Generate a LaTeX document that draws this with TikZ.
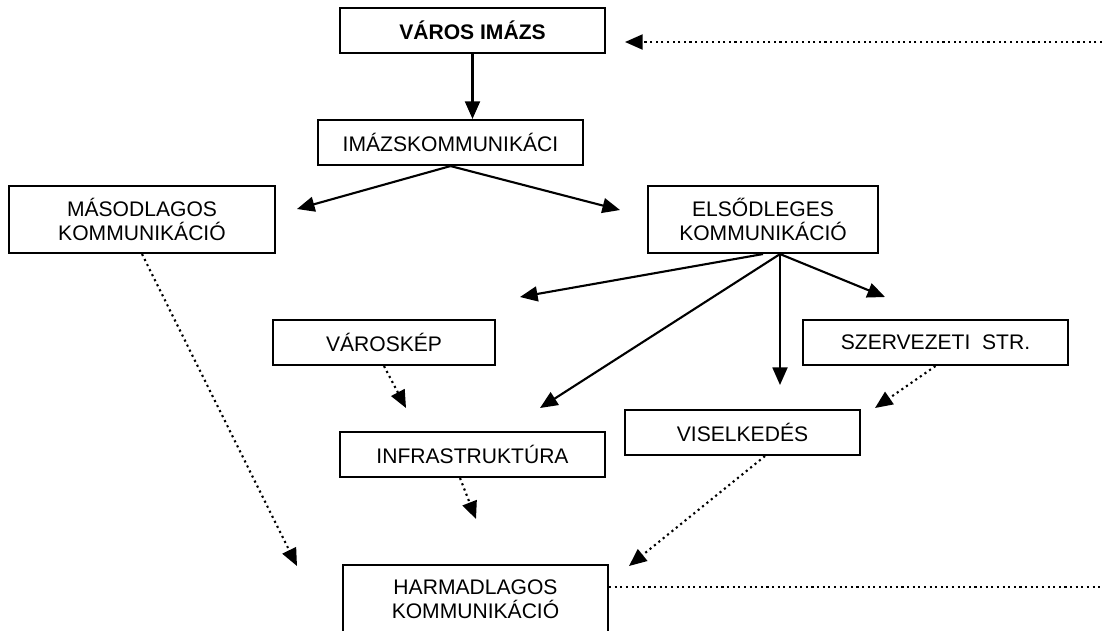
\documentclass[tikz,border=0pt]{standalone}
\usepackage{fontspec}
\setmainfont{Liberation Sans}
\usetikzlibrary{arrows.meta,calc}

\begin{document}
\begin{tikzpicture}[x=0.02cm,y=-0.02cm,
  font=\fontsize{12}{13.6}\selectfont,
  block/.style={rectangle,draw,line width=1.2pt,align=center,inner sep=0pt,minimum width=5.3cm,minimum height=0.9cm},
  arrow/.style={-{Triangle[length=10pt,width=8.5pt]},line width=1.2pt},
  dotarrow/.style={-{Triangle[length=10pt,width=8.5pt]},line width=1.2pt,dash pattern=on 1.2pt off 2pt}]
\clip (0,0) rectangle (1102,630);
\node[block,font=\fontsize{12}{13.6}\selectfont\bfseries] (varos) at (472.5,30.5) {VÁROS IMÁZS};
\node[block] (imazs) at (450.5,142.5) {IMÁZSKOMMUNIKÁCI};
\node[block,minimum width=5.32cm,minimum height=1.34cm] (masod) at (142,219.5) {MÁSODLAGOS\\KOMMUNIKÁCIÓ};
\node[block,minimum width=4.6cm,minimum height=1.34cm] (elso) at (763,219.5) {ELSŐDLEGES\\KOMMUNIKÁCIÓ};
\node[block,minimum width=4.44cm] (varoskep) at (384,342.5) {VÁROSKÉP};
\node[block] (szerv) at (935.5,342.5) {SZERVEZETI\ \ STR.};
\node[block] (infra) at (472.5,454.5) {INFRASTRUKTÚRA};
\node[block,minimum width=4.7cm] (visel) at (742.5,432.5) {VISELKEDÉS};
\node[block,minimum height=1.36cm] (harmad) at (475.5,599) {HARMADLAGOS\\KOMMUNIKÁCIÓ};
\coordinate (feedIn) at (1102,42); \coordinate (feedTip) at (625,42);
\coordinate (feedOut) at (1102,587);
\coordinate (toMasod) at (297,209); \coordinate (toElso) at (620,210);
\coordinate (elsoFoot) at ($(elso.south)+(17,0)$);
\coordinate (toKep) at (520,297); \coordinate (toInfra) at (540,408);
\coordinate (toVisel) at (780,385); \coordinate (toSzerv) at (885,297);
\coordinate (kepTip) at (406,408); \coordinate (szervTip) at (875,408);
\coordinate (infraTip) at (476,519); \coordinate (viselTip) at (629,566);
\coordinate (masodTip) at (297,566);
\draw[arrow] (varos.south)--(varos.south|-imazs.north);
\draw[arrow] (imazs.south)--(toMasod); \draw[arrow] (imazs.south)--(toElso);
\draw[arrow] (elso.south)--(toKep); \draw[arrow] (elsoFoot)--(toInfra);
\draw[arrow] (elsoFoot)--(toVisel); \draw[arrow] (elsoFoot)--(toSzerv);
\draw[dotarrow] (feedIn)--(feedTip);
\draw[dotarrow] (masod.south)--(masodTip);
\draw[dotarrow] (varoskep.south)--(kepTip);
\draw[dotarrow] (infra.south-|460,0)--(infraTip);
\draw[dotarrow] (szerv.south)--(szervTip);
\draw[dotarrow] (visel.south-|765,0)--(viselTip);
\draw[line width=1.2pt,dash pattern=on 1.2pt off 2pt] (harmad.east|-feedOut)--(feedOut);
\end{tikzpicture}
\end{document}
